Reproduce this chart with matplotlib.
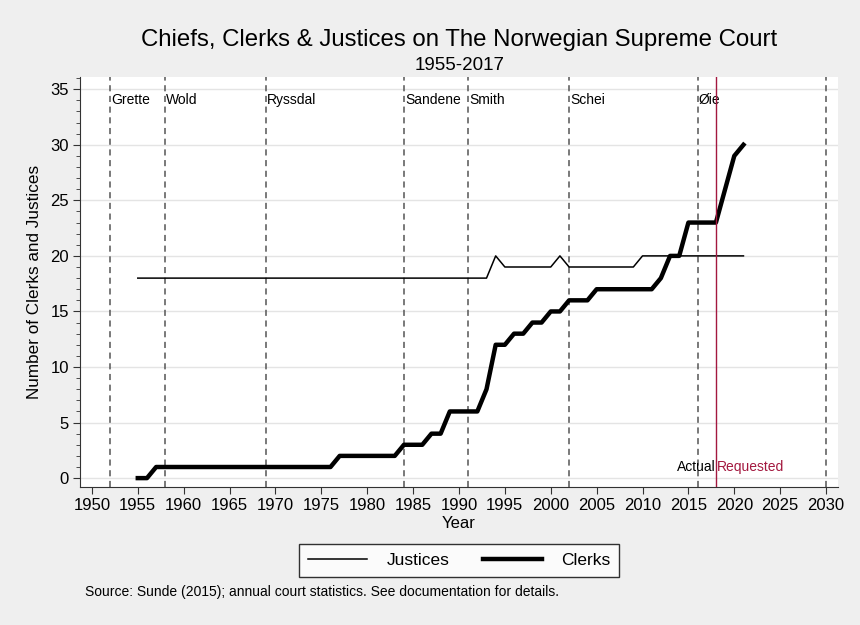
import matplotlib.pyplot as plt
from matplotlib.ticker import MultipleLocator

plt.rcParams["font.family"] = ["Liberation Sans", "DejaVu Sans"]

years = list(range(1955, 2022))

justices = ([18] * 39          # 1955-1993
            + [20]             # 1994
            + [19] * 6         # 1995-2000
            + [20]             # 2001
            + [19] * 8         # 2002-2009
            + [20] * 12)       # 2010-2021

clerks = ([0, 0]               # 1955-1956
          + [1] * 20           # 1957-1976
          + [2] * 7            # 1977-1983
          + [3] * 3            # 1984-1986
          + [4] * 2            # 1987-1988
          + [6] * 4            # 1989-1992
          + [8]                # 1993
          + [12, 12, 13, 13, 14, 14, 15, 15]   # 1994-2001
          + [16] * 3           # 2002-2004
          + [17] * 7           # 2005-2011
          + [18, 20, 20]       # 2012-2014
          + [23] * 4           # 2015-2018
          + [26, 29, 30])      # 2019-2021

chief_names = ["Grette", "Wold", "Ryssdal", "Sandene", "Smith", "Schei", "Øie", ""]
chief_years = [1952, 1958, 1969, 1984, 1991, 2002, 2016, 2030]
request_year = 2018

fig = plt.figure(figsize=(8.6, 6.25), dpi=100, facecolor="#efefef")
ax = fig.add_axes([0.093, 0.2208, 0.8814, 0.656])
ax.set_facecolor("white")

ax.plot(years, justices, color="black", lw=1.1, label="Justices", zorder=3)
ax.plot(years, clerks, color="black", lw=3.2, label="Clerks", zorder=4)

for name, yr in zip(chief_names, chief_years):
    ax.axvline(yr, color="#555555", lw=1.1, ls=(0, (4, 3)), zorder=2)
    if name:
        ax.text(yr + 0.1, 34, name, fontsize=10, va="center", ha="left")

red = "#a3183f"
ax.axvline(request_year, color=red, lw=1.0, zorder=5)
ax.text(request_year - 0.05, 1, "Actual", fontsize=10, ha="right", va="center")
ax.text(request_year + 0.1, 1, "Requested", fontsize=10, ha="left", va="center", color=red)

ax.set_xlim(1948.7, 2031.3)
ax.set_ylim(-0.8, 36.1)
ax.set_xticks(range(1950, 2031, 5))
ax.yaxis.set_major_locator(MultipleLocator(5))
ax.yaxis.set_minor_locator(MultipleLocator(1))
ax.grid(axis="y", color="#e4e4e4", lw=1.0, zorder=0)
ax.set_axisbelow(True)

for s in ["top", "right"]:
    ax.spines[s].set_visible(False)
for s in ["left", "bottom"]:
    ax.spines[s].set_color("#333333")
ax.tick_params(axis="both", which="major", labelsize=12, length=5, color="#333333", pad=3)
ax.tick_params(axis="y", which="minor", length=3, color="#333333")

ax.set_xlabel("Year", fontsize=12, labelpad=2)
ax.set_ylabel("Number of Clerks and Justices", fontsize=12.3, labelpad=6)

fig.text(0.534, 0.936, "Chiefs, Clerks & Justices on The Norwegian Supreme Court",
         fontsize=17.3, ha="center", va="center")
fig.text(0.534, 0.895, "1955-2017", fontsize=13.5, ha="center", va="center")

leg = fig.legend(loc="center", bbox_to_anchor=(0.534, 0.1032), ncol=2,
                 fontsize=12.5, frameon=True, fancybox=False, edgecolor="black",
                 handlelength=3.4, handletextpad=1.15, columnspacing=1.9, borderpad=0.5)
leg.get_frame().set_linewidth(1.0)

fig.text(0.099, 0.053, "Source: Sunde (2015); annual court statistics. See documentation for details.",
         fontsize=10, ha="left", va="center")

fig.savefig("out.png", dpi=100, facecolor=fig.get_facecolor())
